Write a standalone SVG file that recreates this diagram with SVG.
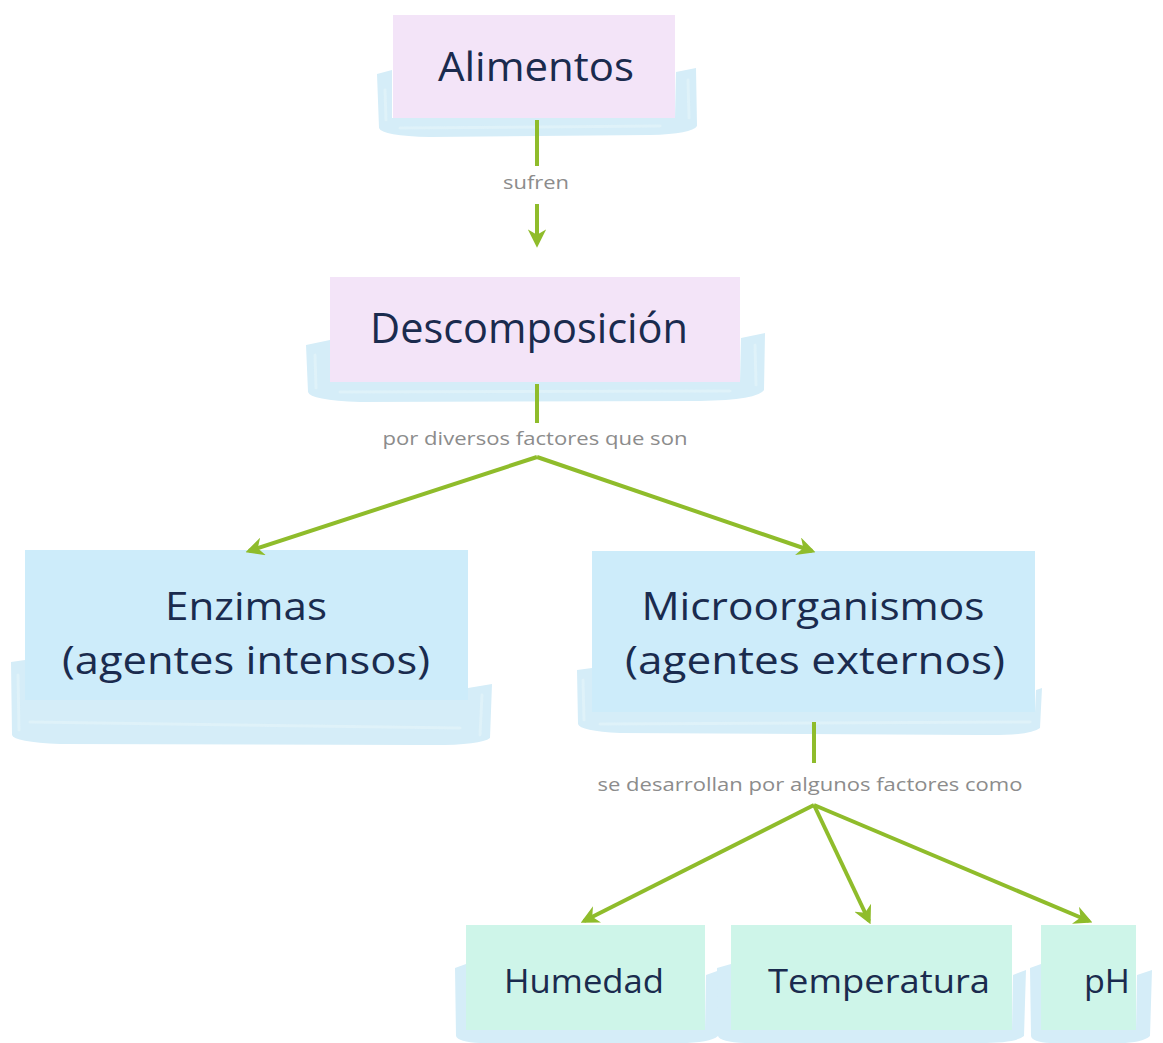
<svg xmlns="http://www.w3.org/2000/svg" width="1163" height="1043" viewBox="0 0 1163 1043">
<defs>
<style>
.brush{fill:#d5edf8;}
.streak{fill:none;stroke:#e3f3fa;stroke-width:3;stroke-linecap:round;opacity:0.7;}
.pink{fill:#f3e4f8;}
.blue{fill:#cdecfa;}
.mint{fill:#cef5e9;}
.nt{font-family:"Open Sans","Noto Sans",sans-serif;fill:#1a2b4e;text-anchor:middle;}
.lb{font-family:"Open Sans","Liberation Sans",sans-serif;fill:#8c8c8c;font-size:19px;text-anchor:middle;}
.cn{stroke:#8fbc2b;stroke-width:4;fill:none;}
</style>
<marker id="ah" viewBox="0 0 10 10" refX="8" refY="5" markerWidth="4.6" markerHeight="4.6" orient="auto" markerUnits="strokeWidth">
<path d="M0,0 L10,5 L0,10 L3,5 Z" fill="#8fbc2b"/>
</marker>
</defs>
<rect width="1163" height="1043" fill="#ffffff"/>

<g id="alimentos">
<path class="brush" d="M377,74 L392,70 L392,118 L675,118 L676,72 L696,68 L697,126 Q692,134 650,135 L430,137 Q382,136 379,128 Z"/>
<path class="streak" d="M400,128 L660,126 M385,90 L386,120 M688,80 L689,118"/>
<rect class="pink" x="393" y="15" width="282" height="103"/>
<text class="nt" x="536" y="81" font-size="40" textLength="196" lengthAdjust="spacingAndGlyphs">Alimentos</text>
</g>

<g id="descomposicion">
<path class="brush" d="M306,345 L330,340 L330,382 L740,382 L741,338 L765,333 L764,390 Q758,400 700,401 L360,402 Q310,400 308,392 Z"/>
<path class="streak" d="M340,392 L730,391 M315,355 L316,388 M755,345 L756,385"/>
<rect class="pink" x="330" y="277" width="410" height="105"/>
<text class="nt" x="529" y="343" font-size="42" textLength="318" lengthAdjust="spacingAndGlyphs">Descomposición</text>
</g>

<g id="enzimas">
<path class="brush" d="M11,662 L25,660 L25,700 L467,700 L468,688 L492,684 L490,738 Q480,746 420,745 L60,744 Q14,742 12,735 Z"/>
<path class="streak" d="M30,722 L460,728 M18,675 L19,730 M482,695 L480,735"/>
<rect class="blue" x="25" y="550" width="443" height="150"/>
<text class="nt" x="246" y="620" font-size="38" textLength="162" lengthAdjust="spacingAndGlyphs">Enzimas</text>
<text class="nt" x="246" y="674" font-size="38" textLength="368" lengthAdjust="spacingAndGlyphs">(agentes intensos)</text>
</g>

<g id="microorganismos">
<path class="brush" d="M577,670 L592,668 L592,712 L1035,712 L1036,690 L1042,688 L1040,728 Q1030,736 980,735 L620,733 Q580,731 578,724 Z"/>
<path class="streak" d="M600,724 L1030,722 M583,680 L584,720"/>
<rect class="blue" x="592" y="551" width="443" height="161"/>
<text class="nt" x="813" y="620" font-size="38" textLength="343" lengthAdjust="spacingAndGlyphs">Microorganismos</text>
<text class="nt" x="815" y="674" font-size="38" textLength="380" lengthAdjust="spacingAndGlyphs">(agentes externos)</text>
</g>

<g id="humedad">
<path class="brush" d="M455,968 L466,964 L466,1030 L705,1030 L706,975 L720,970 L718,1036 Q710,1043 680,1043 L480,1043 Q458,1042 456,1036 Z"/>
<rect class="mint" x="466" y="925" width="239" height="105"/>
<text class="nt" x="584" y="993" font-size="33" textLength="160" lengthAdjust="spacingAndGlyphs">Humedad</text>
</g>

<g id="temperatura">
<path class="brush" d="M717,968 L731,964 L731,1030 L1012,1030 L1013,975 L1026,970 L1024,1036 Q1016,1043 980,1043 L745,1043 Q720,1042 718,1036 Z"/>
<rect class="mint" x="731" y="925" width="281" height="105"/>
<text class="nt" x="879" y="993" font-size="33" textLength="222" lengthAdjust="spacingAndGlyphs">Temperatura</text>
</g>

<g id="ph">
<path class="brush" d="M1030,968 L1041,964 L1041,1030 L1136,1030 L1137,975 L1152,970 L1150,1036 Q1142,1043 1120,1043 L1050,1043 Q1032,1042 1031,1036 Z"/>
<rect class="mint" x="1041" y="925" width="95" height="105"/>
<text class="nt" x="1107" y="993" font-size="33" textLength="46" lengthAdjust="spacingAndGlyphs">pH</text>
</g>

<g id="connectors">
<line class="cn" x1="537" y1="120" x2="537" y2="166"/>
<text class="lb" x="536" y="189" textLength="66" lengthAdjust="spacingAndGlyphs">sufren</text>
<line class="cn" x1="537" y1="204" x2="537" y2="244" marker-end="url(#ah)"/>

<line class="cn" x1="537" y1="384" x2="537" y2="423"/>
<text class="lb" x="535" y="445" textLength="305" lengthAdjust="spacingAndGlyphs">por diversos factores que son</text>
<line class="cn" x1="537" y1="457" x2="249" y2="551" marker-end="url(#ah)"/>
<line class="cn" x1="537" y1="457" x2="812" y2="551" marker-end="url(#ah)"/>

<line class="cn" x1="814" y1="722" x2="814" y2="763"/>
<text class="lb" x="810" y="791" textLength="425" lengthAdjust="spacingAndGlyphs">se desarrollan por algunos factores como</text>
<line class="cn" x1="814" y1="805" x2="584" y2="921" marker-end="url(#ah)"/>
<line class="cn" x1="814" y1="805" x2="869" y2="921" marker-end="url(#ah)"/>
<line class="cn" x1="814" y1="805" x2="1089" y2="921" marker-end="url(#ah)"/>
</g>
</svg>
